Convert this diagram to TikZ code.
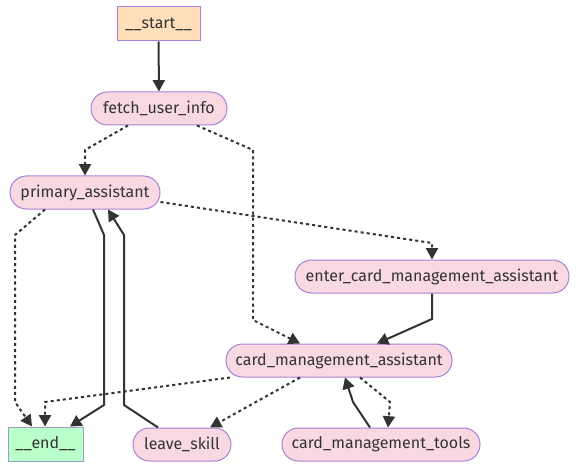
\documentclass[tikz,border=0pt]{standalone}
\usepackage{fontspec}
\setmainfont{Fira Sans}
\usetikzlibrary{arrows.meta}

\definecolor{nodefill}{HTML}{F9D9E1}
\definecolor{startfill}{HTML}{FFDFBA}
\definecolor{endfill}{HTML}{BAFFC9}
\definecolor{nodeline}{HTML}{A77FD6}
\definecolor{endline}{HTML}{9A9FC0}
\definecolor{edgecol}{HTML}{333333}

\tikzset{
    state/.style={draw=nodeline,fill=nodefill,rounded corners=12.3pt,line width=0.75pt,
        minimum height=24.75pt,inner xsep=0pt,text=edgecol,font=\fontsize{12}{14}\selectfont},
    terminal/.style={state,rounded corners=0pt,minimum height=25.5pt},
    flow/.style={draw=edgecol,line width=1.5pt,-{Triangle[length=8.5pt,width=9pt]}},
    cond/.style={flow,dash pattern=on 2.3pt off 2.3pt}
}

\begin{document}
\begin{tikzpicture}[x=0.75pt,y=-0.75pt]
    \useasboundingbox (0,0) rectangle (577,470);

    \node[terminal,fill=startfill,minimum width=62.25pt] (start) at (158.5,24) {\_\_start\_\_};
    \node[state,minimum width=102pt] (fetch) at (159,108.5) {fetch\_user\_info};
    \node[state,minimum width=112.5pt] (primary) at (85,192.5) {primary\_assistant};
    \node[state,minimum width=205.5pt] (enter) at (432,276.5) {enter\_card\_management\_assistant};
    \node[state,minimum width=169.5pt] (cma) at (339,360.5) {card\_management\_assistant};
    \node[terminal,fill=endfill,draw=endline,minimum width=56.25pt] (end) at (45.5,444) {\_\_end\_\_};
    \node[state,minimum width=73.5pt] (leave) at (182,444.5) {leave\_skill};
    \node[state,minimum width=148.5pt] (tools) at (381,444.5) {card\_management\_tools};

    \draw[flow] (start) -- (fetch);
    \draw[cond] (fetch.south -| 128,0) -- (85,150) -- (primary);
    \draw[cond] (fetch.south -| 197,0) -- (253,150) -- (253,320) -- (cma.north -| 300,0);
    \draw[cond] (primary.east |- 0,202) -- (432,243) -- (enter);
    \draw[flow] (enter) -- (432,319) -- (cma.north -| 377,0);
    \draw[cond] (primary.south -| 45,0) -- (15,235) -- (15,402) -- (end.north -| 32,0);
    \draw[flow] (primary.south -| 93,0) -- (104,235) -- (104,405) -- (end.north -| 70,0);
    \draw[flow] (leave.north -| 158,0) -- (124,405) -- (124,235) -- (primary.south -| 108,0);
    \draw[cond] (cma.south -| 230,0) -- (45,402) -- (end.north -| 45,0);
    \draw[cond] (cma.south -| 300,0) -- (leave.north -| 210,0);
    \draw[cond] (cma.south -| 360,0) -- (390,402) -- (tools.north -| 388,0);
    \draw[flow] (tools.north -| 370,0) -- (353,402) -- (cma.south -| 345,0);
\end{tikzpicture}
\end{document}
